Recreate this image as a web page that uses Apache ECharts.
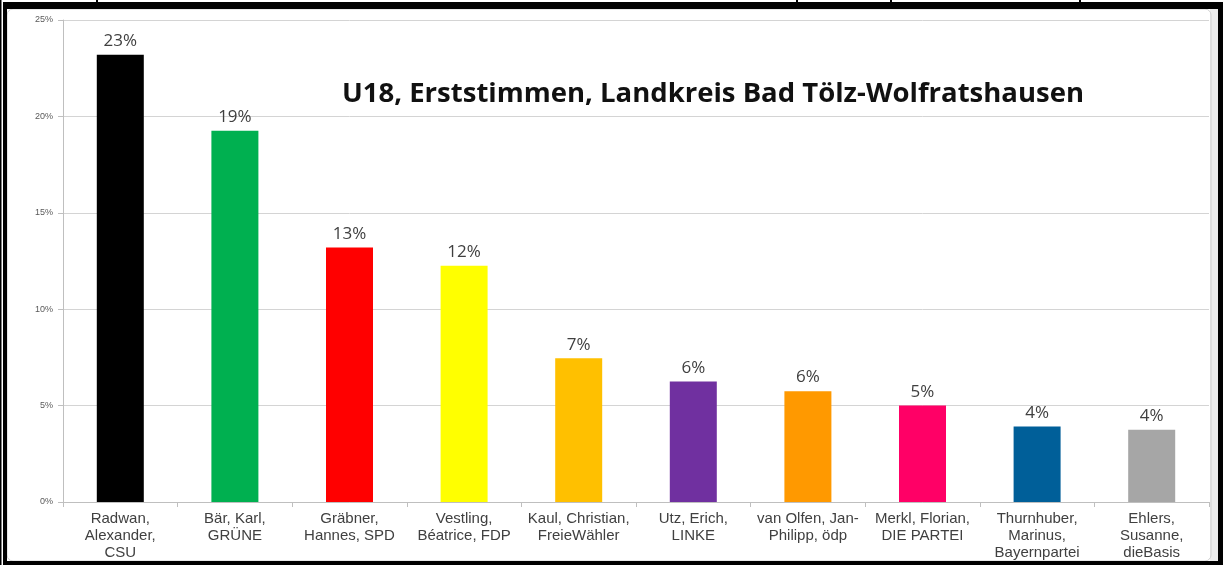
<!DOCTYPE html>
<html><head><meta charset="utf-8">
<script src="https://cdn.jsdelivr.net/npm/echarts@6/dist/echarts.min.js"></script>
<style>html,body{margin:0;padding:0;background:#fff}#c{width:1223px;height:565px}</style>
</head><body><div id="c"></div>
<script>
const categories = [
  "Radwan,\nAlexander,\nCSU",
  "Bär, Karl,\nGRÜNE",
  "Gräbner,\nHannes, SPD",
  "Vestling,\nBéatrice, FDP",
  "Kaul, Christian,\nFreieWähler",
  "Utz, Erich,\nLINKE",
  "van Olfen, Jan-\nPhilipp, ödp",
  "Merkl, Florian,\nDIE PARTEI",
  "Thurnhuber,\nMarinus,\nBayernpartei",
  "Ehlers,\nSusanne,\ndieBasis"
];
const values = [23.2, 19.25, 13.2, 12.25, 7.45, 6.25, 5.75, 5.0, 3.92, 3.75];
const barColors = ["#000000","#00b050","#ff0000","#ffff00","#ffc000","#7030a0","#ff9900","#ff0066","#005f99","#a6a6a6"];
const titleText = "U18, Erststimmen, Landkreis Bad Tölz-Wolfratshausen";

const chart = echarts.init(document.getElementById('c'));
chart.setOption({
  backgroundColor: '#ffffff',
  animation: false,
  title: {
    text: titleText,
    left: 337, top: 75,
    textStyle: {fontFamily: 'Open Sans', fontWeight: 'bold', fontSize: 27.5, color: '#111111'}
  },
  grid: {left: 63, right: 14, top: 20, bottom: 63},
  xAxis: {
    type: 'category',
    data: categories,
    axisLine: {lineStyle: {color: '#bfbfbf'}},
    axisTick: {show: true, length: 5, alignWithLabel: false, lineStyle: {color: '#bfbfbf'}},
    axisLabel: {interval: 0, margin: 8, fontFamily: 'Liberation Sans', fontSize: 15, lineHeight: 17, color: '#404040'}
  },
  yAxis: {
    type: 'value', min: 0, max: 25, interval: 5,
    axisLine: {show: true, lineStyle: {color: '#bfbfbf'}},
    axisTick: {show: true, length: 5, lineStyle: {color: '#bfbfbf'}},
    splitLine: {lineStyle: {color: '#d4d4d4'}},
    axisLabel: {formatter: v => v + '%', fontFamily: 'Liberation Sans', fontSize: 9, color: '#595959', margin: 10}
  },
  series: [{
    type: 'bar',
    data: values.map((v, i) => ({value: v, itemStyle: {color: barColors[i]}})),
    barWidth: 47,
    label: {
      show: true, position: 'top', distance: 5,
      formatter: p => Math.round(p.value) + '%',
      fontFamily: 'Open Sans', fontSize: 17, color: '#404040'
    }
  }],
  graphic: [
    {type: 'rect', shape: {x: 1210, y: 8, width: 8, height: 554}, style: {fill: '#ececec'}, silent: true},
    {type: 'rect', shape: {x: 7, y: 9, width: 1204, height: 552, r: 6}, style: {fill: 'none', stroke: '#d0d0d0', lineWidth: 1}, silent: true},
    {type: 'rect', shape: {x: 3, y: 2, width: 1220, height: 7}, style: {fill: '#000'}, silent: true},
    {type: 'rect', shape: {x: 3, y: 2, width: 4, height: 563}, style: {fill: '#000'}, silent: true},
    {type: 'rect', shape: {x: 1218, y: 2, width: 5, height: 563}, style: {fill: '#000'}, silent: true},
    {type: 'rect', shape: {x: 3, y: 561, width: 1220, height: 4}, style: {fill: '#000'}, silent: true},
    {type: 'rect', shape: {x: 0, y: 0, width: 1.5, height: 565}, style: {fill: '#000'}, silent: true},
    {type: 'rect', shape: {x: 96, y: 0, width: 2, height: 4}, style: {fill: '#000'}, silent: true},
    {type: 'rect', shape: {x: 796, y: 0, width: 2, height: 4}, style: {fill: '#000'}, silent: true},
    {type: 'rect', shape: {x: 890, y: 0, width: 2, height: 4}, style: {fill: '#000'}, silent: true},
    {type: 'rect', shape: {x: 1079, y: 0, width: 2, height: 4}, style: {fill: '#000'}, silent: true}
  ]
});
</script></body></html>
